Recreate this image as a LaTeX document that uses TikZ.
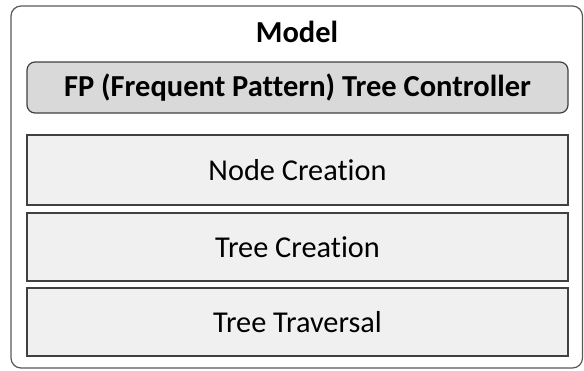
\documentclass[tikz,border=0pt]{standalone}
\usepackage{fontspec}
\setmainfont{Carlito}[Ligatures={NoCommon,NoContextual}]
\begin{document}
\begin{tikzpicture}[x=1pt,y=-1pt,
  outerbox/.style={draw=black!65, line width=1.2pt, rounded corners=10pt},
  ctrlbox/.style={draw=black!75, fill=black!15, line width=1.2pt, rounded corners=8pt},
  compbox/.style={draw=black!75, fill=black!6, line width=1.2pt},
  boldtext/.style={font=\fontsize{30.5}{34}\selectfont\bfseries, inner sep=0pt},
  plaintext/.style={font=\fontsize{30.3}{34}\selectfont, inner sep=0pt}
]
\useasboundingbox (0,0) rectangle (584,370);
\draw[outerbox] (11,6) rectangle (582.5,368);
\node[boldtext] (model) at (297,32) {Model};
\draw[ctrlbox] (27,62) rectangle (568,113);
\node[boldtext] (fp) at (297.5,88) {FP (Frequent Pattern) Tree Controller};
\draw[compbox] (27,135) rectangle (568,205);
\node[plaintext] (nc) at (297.5,170) {Node Creation};
\draw[compbox] (27,213) rectangle (568,281);
\node[plaintext] (tc) at (297.5,247) {Tree Creation};
\draw[compbox] (27,288) rectangle (568,356);
\node[plaintext] (tt) at (297.5,322) {Tree Traversal};
\end{tikzpicture}
\end{document}
